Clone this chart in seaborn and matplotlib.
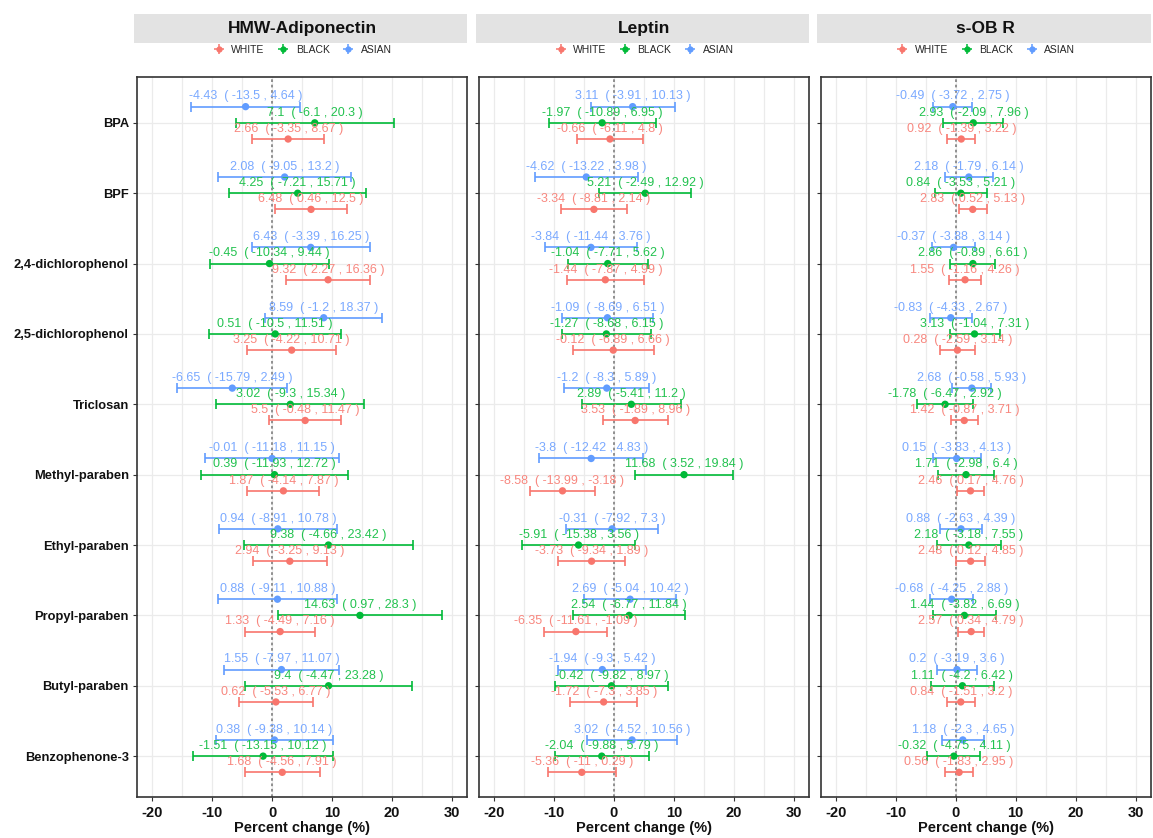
import numpy as np
import pandas as pd
import seaborn as sns
import matplotlib.pyplot as plt
from matplotlib.lines import Line2D
from matplotlib.patches import Rectangle
from matplotlib.legend_handler import HandlerTuple

# chemicals (top to bottom) and groups
chemicals = ["BPA", "BPF", "2,4-dichlorophenol", "2,5-dichlorophenol", "Triclosan",
             "Methyl-paraben", "Ethyl-paraben", "Propyl-paraben", "Butyl-paraben",
             "Benzophenone-3"]
groups = ["WHITE", "BLACK", "ASIAN"]
outcomes = ["HMW-Adiponectin", "Leptin", "s-OB R"]

# HMW-Adiponectin
adipo_white_est = [2.66, 6.48, 9.32, 3.25, 5.5, 1.87, 2.94, 1.33, 0.62, 1.68]
adipo_white_lo = [-3.35, 0.46, 2.27, -4.22, -0.48, -4.14, -3.25, -4.49, -5.53, -4.56]
adipo_white_hi = [8.67, 12.5, 16.36, 10.71, 11.47, 7.87, 9.13, 7.16, 6.77, 7.91]
adipo_black_est = [7.1, 4.25, -0.45, 0.51, 3.02, 0.39, 9.38, 14.63, 9.4, -1.51]
adipo_black_lo = [-6.1, -7.21, -10.34, -10.5, -9.3, -11.93, -4.66, 0.97, -4.47, -13.15]
adipo_black_hi = [20.3, 15.71, 9.44, 11.51, 15.34, 12.72, 23.42, 28.3, 23.28, 10.12]
adipo_asian_est = [-4.43, 2.08, 6.43, 8.59, -6.65, -0.01, 0.94, 0.88, 1.55, 0.38]
adipo_asian_lo = [-13.5, -9.05, -3.39, -1.2, -15.79, -11.18, -8.91, -9.11, -7.97, -9.38]
adipo_asian_hi = [4.64, 13.2, 16.25, 18.37, 2.49, 11.15, 10.78, 10.88, 11.07, 10.14]

# Leptin
leptin_white_est = [-0.66, -3.34, -1.44, -0.12, 3.53, -8.58, -3.73, -6.35, -1.72, -5.36]
leptin_white_lo = [-6.11, -8.81, -7.87, -6.89, -1.89, -13.99, -9.34, -11.61, -7.3, -11]
leptin_white_hi = [4.8, 2.14, 4.99, 6.66, 8.96, -3.18, 1.89, -1.09, 3.85, 0.29]
leptin_black_est = [-1.97, 5.21, -1.04, -1.27, 2.89, 11.68, -5.91, 2.54, -0.42, -2.04]
leptin_black_lo = [-10.89, -2.49, -7.71, -8.68, -5.41, 3.52, -15.38, -6.77, -9.82, -9.88]
leptin_black_hi = [6.95, 12.92, 5.62, 6.15, 11.2, 19.84, 3.56, 11.84, 8.97, 5.79]
leptin_asian_est = [3.11, -4.62, -3.84, -1.09, -1.2, -3.8, -0.31, 2.69, -1.94, 3.02]
leptin_asian_lo = [-3.91, -13.22, -11.44, -8.69, -8.3, -12.42, -7.92, -5.04, -9.3, -4.52]
leptin_asian_hi = [10.13, 3.98, 3.76, 6.51, 5.89, 4.83, 7.3, 10.42, 5.42, 10.56]

# s-OB R
sobr_white_est = [0.92, 2.83, 1.55, 0.28, 1.42, 2.46, 2.48, 2.57, 0.84, 0.56]
sobr_white_lo = [-1.39, 0.52, -1.16, -2.59, -0.87, 0.17, 0.12, 0.34, -1.51, -1.83]
sobr_white_hi = [3.22, 5.13, 4.26, 3.14, 3.71, 4.76, 4.85, 4.79, 3.2, 2.95]
sobr_black_est = [2.93, 0.84, 2.86, 3.13, -1.78, 1.71, 2.18, 1.44, 1.11, -0.32]
sobr_black_lo = [-2.09, -3.53, -0.89, -1.04, -6.47, -2.98, -3.18, -3.82, -4.2, -4.75]
sobr_black_hi = [7.96, 5.21, 6.61, 7.31, 2.92, 6.4, 7.55, 6.69, 6.42, 4.11]
sobr_asian_est = [-0.49, 2.18, -0.37, -0.83, 2.68, 0.15, 0.88, -0.68, 0.2, 1.18]
sobr_asian_lo = [-3.72, -1.79, -3.88, -4.33, -0.58, -3.83, -2.63, -4.25, -3.19, -2.3]
sobr_asian_hi = [2.75, 6.14, 3.14, 2.67, 5.93, 4.13, 4.39, 2.88, 3.6, 4.65]

x_ticks = [-20, -10, 0, 10, 20, 30]

palette = {"WHITE": "#F8766D", "BLACK": "#00BA38", "ASIAN": "#619CFF"}
text_colors = {"WHITE": "#F8877F", "BLACK": "#22C24F", "ASIAN": "#7AA9FF"}
offsets = {"WHITE": 0.23, "BLACK": 0.0, "ASIAN": -0.23}

raw = {
    "HMW-Adiponectin": {
        "WHITE": (adipo_white_est, adipo_white_lo, adipo_white_hi),
        "BLACK": (adipo_black_est, adipo_black_lo, adipo_black_hi),
        "ASIAN": (adipo_asian_est, adipo_asian_lo, adipo_asian_hi),
    },
    "Leptin": {
        "WHITE": (leptin_white_est, leptin_white_lo, leptin_white_hi),
        "BLACK": (leptin_black_est, leptin_black_lo, leptin_black_hi),
        "ASIAN": (leptin_asian_est, leptin_asian_lo, leptin_asian_hi),
    },
    "s-OB R": {
        "WHITE": (sobr_white_est, sobr_white_lo, sobr_white_hi),
        "BLACK": (sobr_black_est, sobr_black_lo, sobr_black_hi),
        "ASIAN": (sobr_asian_est, sobr_asian_lo, sobr_asian_hi),
    },
}

# build long table
rows = []
for outcome in outcomes:
    for g in groups:
        est, lo, hi = raw[outcome][g]
        for i, chem in enumerate(chemicals):
            rows.append({"outcome": outcome, "group": g, "chemical": chem,
                         "est": est[i], "lo": lo[i], "hi": hi[i],
                         "ypos": i + offsets[g]})
df = pd.DataFrame(rows)


def fmt(v):
    return f"{v:g}"


sns.set_theme(style="whitegrid")
plt.rcParams["font.family"] = ["Liberation Sans", "DejaVu Sans"]

fig, axes = plt.subplots(1, 3, figsize=(11.53, 8.38), dpi=100, sharey=True)
fig.subplots_adjust(left=0.119, right=0.998, bottom=0.049, top=0.908, wspace=0.036)

for ax, outcome in zip(axes, outcomes):
    sub = df[df["outcome"] == outcome]
    ax.axvline(0, color="#888888", linestyle=(0, (1.5, 1.5)), linewidth=1.3, zorder=1)
    for g in groups:
        d = sub[sub["group"] == g]
        ax.errorbar(d["est"], d["ypos"],
                    xerr=[d["est"] - d["lo"], d["hi"] - d["est"]],
                    fmt="none", ecolor=palette[g], elinewidth=1.2,
                    capsize=3.6, capthick=1.2, zorder=2)
        for _, r in d.iterrows():
            ax.text(r["est"], r["ypos"] - 0.145,
                    f"{fmt(r['est'])}  ( {fmt(r['lo'])} , {fmt(r['hi'])} )",
                    color=text_colors[g], fontsize=9, ha="center", va="center",
                    zorder=4)
    sns.scatterplot(data=sub, x="est", y="ypos", hue="group", hue_order=groups,
                    palette=palette, s=28, edgecolor="none", legend=False,
                    ax=ax, zorder=3)

    ax.set_xlim(-22.5, 32.5)
    ax.set_ylim(9.58, -0.65)
    ax.set_xticks(x_ticks)
    ax.set_xticks(np.arange(-20, 31, 5), minor=True)
    ax.set_xticklabels([str(t) for t in x_ticks], fontweight="bold", fontsize=10.5,
                       color="#111111")
    ax.set_yticks(range(len(chemicals)))
    ax.set_yticklabels(chemicals, fontweight="bold", fontsize=9.3, color="#111111")
    ax.tick_params(axis="both", length=3, width=0.8, color="#333333", left=True, bottom=True)
    ax.tick_params(axis="y", pad=3)
    ax.grid(True, which="major", color="#EBEBEB", linewidth=0.9)
    ax.grid(True, which="minor", axis="x", color="#EBEBEB", linewidth=0.9)
    ax.set_xlabel("Percent change (%)", fontweight="bold", fontsize=10.5, labelpad=1,
                  color="#111111")
    ax.set_ylabel("")
    for sp in ax.spines.values():
        sp.set_color("#333333")
        sp.set_linewidth(1.2)

    # strip header
    strip = Rectangle((-0.01, 1.048), 1.01, 0.039, transform=ax.transAxes,
                      facecolor="#E3E3E3", edgecolor="none", clip_on=False)
    ax.add_patch(strip)
    ax.text(0.5, 1.0675, outcome, transform=ax.transAxes, ha="center", va="center",
            fontsize=12.5, fontweight="bold", color="#111111")

    # legend under the strip
    handles = [(Line2D([], [], color=palette[g], marker="+", markersize=7,
                       markeredgewidth=1.1, linestyle="none"),
                Line2D([], [], color=palette[g], marker="o", markersize=3.5,
                       linestyle="none")) for g in groups]
    ax.legend(handles, groups, handler_map={tuple: HandlerTuple(ndivide=1)},
              loc="center", bbox_to_anchor=(0.5, 1.0375), ncol=3, frameon=False,
              fontsize=7.5, handlelength=1.2, handletextpad=0.6, columnspacing=1.2,
              borderaxespad=0)

for ax in axes[1:]:
    ax.tick_params(axis="y", labelleft=False)

fig.savefig("out.png", dpi=100)
